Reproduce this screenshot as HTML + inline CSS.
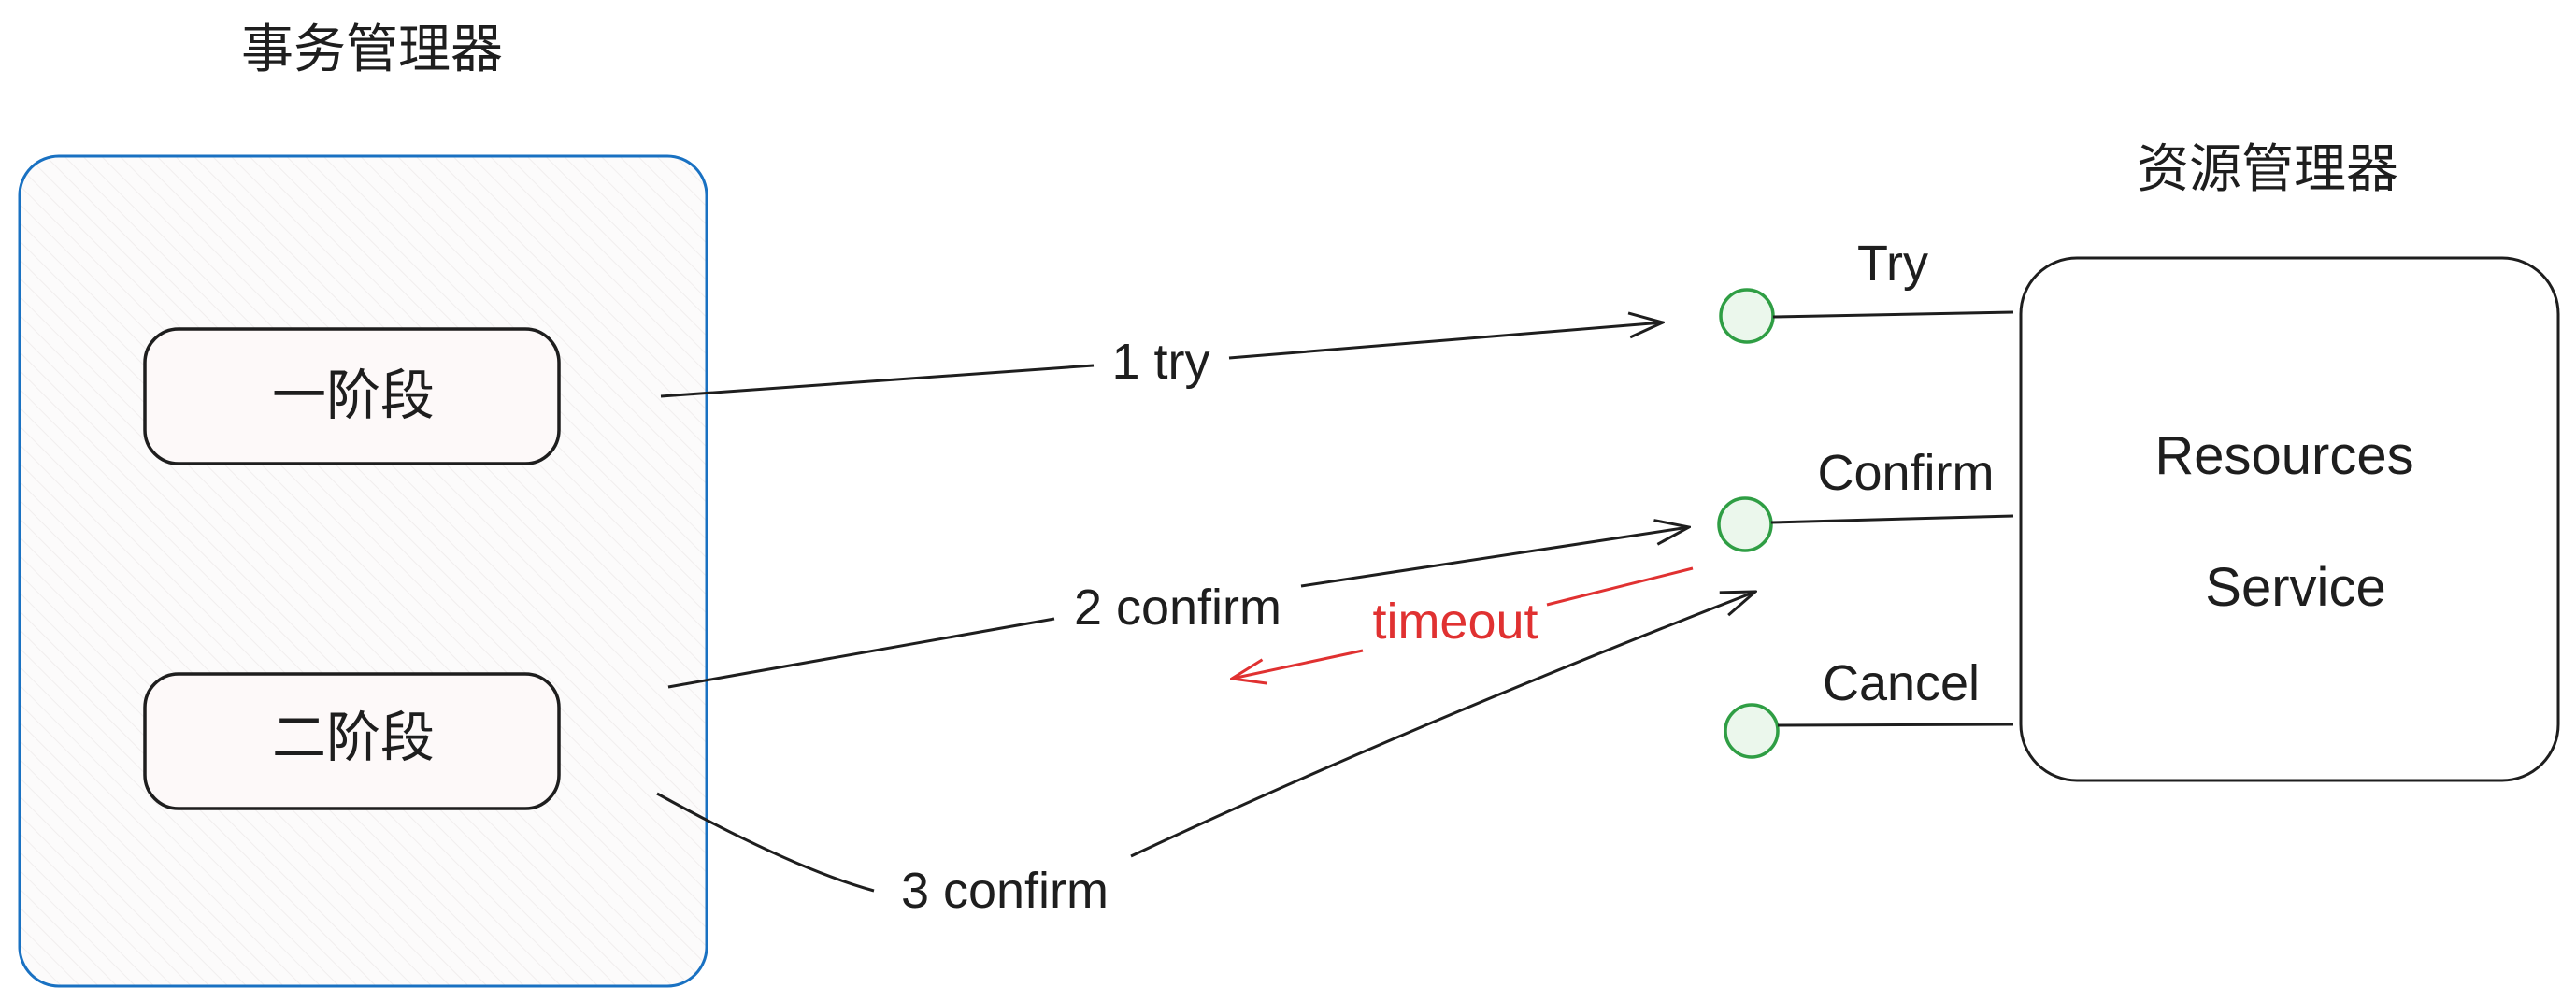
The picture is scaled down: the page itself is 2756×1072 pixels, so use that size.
<!DOCTYPE html>
<html><head><meta charset="utf-8"><style>
html,body{margin:0;padding:0;background:#fff;}
svg{display:block;}
text{font-family:"Liberation Sans","Noto Sans CJK SC",sans-serif;}
</style></head><body>
<svg width="2756" height="1072" viewBox="0 0 2756 1072" xmlns="http://www.w3.org/2000/svg">
<defs>
<pattern id="h" width="14" height="14" patternUnits="userSpaceOnUse" patternTransform="rotate(-45)">
<rect width="14" height="14" fill="#fcfbfb"/><line x1="0" y1="0" x2="0" y2="14" stroke="#f1eeee" stroke-width="2"/>
</pattern>
<marker id="a" markerWidth="40" markerHeight="30" refX="38" refY="15" orient="auto" markerUnits="userSpaceOnUse">
<path d="M2,2 L38,15 L2,28" fill="none" stroke="#1e1e1e" stroke-width="3"/>
</marker>
<marker id="r" markerWidth="40" markerHeight="30" refX="38" refY="15" orient="auto" markerUnits="userSpaceOnUse">
<path d="M2,2 L38,15 L2,28" fill="none" stroke="#e03131" stroke-width="3"/>
</marker>
</defs>
<text x="398" y="72" font-size="56" text-anchor="middle" fill="#1e1e1e">事务管理器</text>
<rect x="21" y="167" width="735" height="888" rx="42" fill="url(#h)" stroke="#1971c2" stroke-width="3"/>
<rect x="155" y="352" width="443" height="144" rx="36" fill="#fdf9f9" stroke="#1e1e1e" stroke-width="3.5"/>
<text x="378" y="443" font-size="58" text-anchor="middle" fill="#1e1e1e">一阶段</text>
<rect x="155" y="721" width="443" height="144" rx="36" fill="#fdf9f9" stroke="#1e1e1e" stroke-width="3.5"/>
<text x="378" y="809" font-size="58" text-anchor="middle" fill="#1e1e1e">二阶段</text>
<text x="2426" y="200" font-size="56" text-anchor="middle" fill="#1e1e1e">资源管理器</text>
<rect x="2162" y="276" width="575" height="559" rx="60" fill="#fff" stroke="#1e1e1e" stroke-width="3"/>
<text x="2444" y="507" font-size="58" text-anchor="middle" fill="#1e1e1e">Resources</text>
<text x="2456" y="648" font-size="58" text-anchor="middle" fill="#1e1e1e">Service</text>
<g fill="#ebf7ec" stroke="#2f9e44" stroke-width="3.5">
<circle cx="1869" cy="338" r="28"/><circle cx="1867" cy="561" r="28"/><circle cx="1874" cy="782" r="28"/>
</g>
<g stroke="#1e1e1e" stroke-width="3" fill="none">
<line x1="1897" y1="339" x2="2154" y2="334"/>
<line x1="1895" y1="559" x2="2154" y2="552"/>
<line x1="1902" y1="776" x2="2154" y2="775"/>
</g>
<g font-size="54" fill="#1e1e1e" text-anchor="middle">
<text x="2025" y="300">Try</text>
<text x="2039" y="524">Confirm</text>
<text x="2034" y="749">Cancel</text>
</g>
<g stroke="#1e1e1e" stroke-width="3" fill="none">
<path d="M707,424 L1170,391 M1315,383 L1779,345" marker-end="url(#a)"/>
<path d="M715,735 L1128,662 M1392,627 L1807,564" marker-end="url(#a)"/>
<path d="M703,849 Q850,930 935,953 M1210,916 Q1500,780 1878,633" marker-end="url(#a)"/>
</g>
<path d="M1811,608 L1655,647 M1458,696 L1318,726" stroke="#e03131" stroke-width="3" fill="none" marker-end="url(#r)"/>
<g font-size="54" fill="#1e1e1e" text-anchor="middle">
<text x="1242" y="405">1 try</text>
<text x="1260" y="668">2 confirm</text>
<text x="1075" y="971">3 confirm</text>
</g>
<text x="1557" y="683" font-size="54" fill="#e03131" text-anchor="middle">timeout</text>
</svg>
</body></html>
